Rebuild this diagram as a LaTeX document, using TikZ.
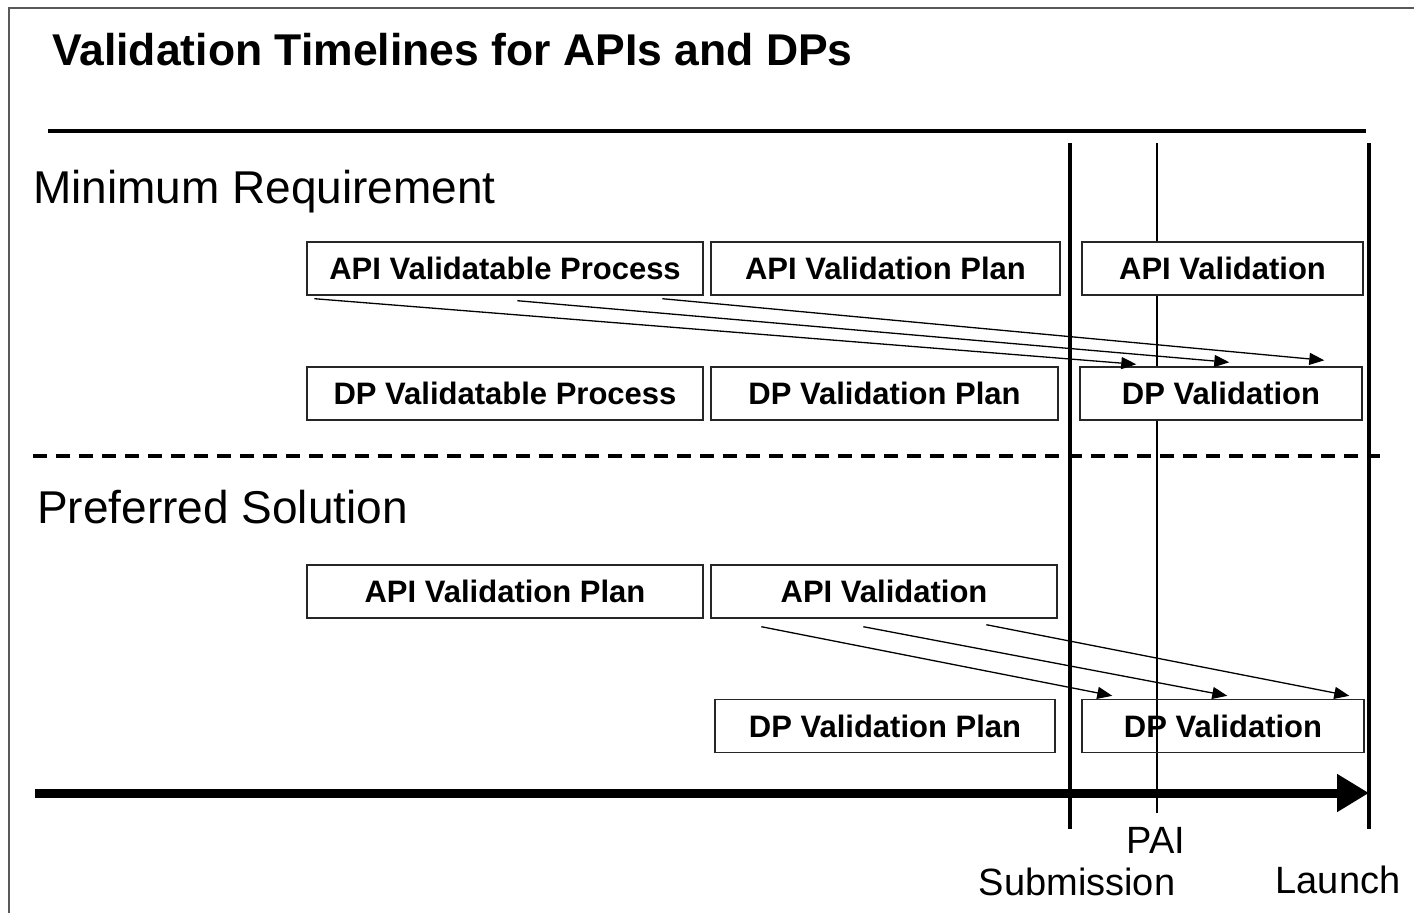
\documentclass[tikz,border=0pt]{standalone}
\usepackage{fontspec}
\setmainfont{Liberation Sans}
\usetikzlibrary{arrows.meta,calc}
\begin{document}
\begin{tikzpicture}[x=1pt,y=-1pt,
  box/.style={draw=black!85,line width=1.4pt,inner sep=0pt,minimum height=53pt,
    font=\fontsize{31}{36}\selectfont\bfseries},
  fbox/.style={box,fill=white},
  lbl/.style={inner sep=0pt,anchor=base,font=\fontsize{38}{42}\selectfont},
  sect/.style={inner sep=0pt,anchor=base west,font=\fontsize{46}{50}\selectfont},
  dep/.style={line width=1.3pt,-{Triangle[length=15pt,width=12pt]}},
  milestone/.style={line width=3.5pt},
]
\useasboundingbox (0,0) rectangle (1414,913);
% frame
\draw[black!65,line width=2pt] (9,913) -- (9,8) -- (1414,8);
% title
\node[inner sep=0pt,anchor=base west,font=\fontsize{44.5}{50}\selectfont\bfseries] (title) at (52,65) {Validation Timelines for APIs and DPs};
\draw[line width=4pt] (48,131) -- (1366,131);
% milestone lines
\coordinate (subtop) at (1070,143);
\coordinate (subbot) at (1070,829);
\coordinate (paitop) at (1157,143);
\coordinate (paibot) at (1157,813);
\coordinate (lautop) at (1369,143);
\coordinate (laubot) at (1369,829);
\draw[milestone] (subtop) -- (subbot);
\draw[line width=1.5pt] (paitop) -- (paibot);
\draw[milestone] (lautop) -- (laubot);
% section labels
\node[sect] (minreq) at (33,203) {Minimum Requirement};
\node[sect] (pref) at (37,523) {Preferred Solution};
% upper boxes
\node[fbox,minimum width=396pt] (avp) at (505,268.5) {API Validatable Process};
\node[fbox,minimum width=349pt] (avplan) at (885.5,268.5) {API Validation Plan};
\node[fbox,minimum width=281pt] (aval) at (1222.5,268.5) {API Validation};
\node[fbox,minimum width=396pt] (dvp) at (505,393.5) {DP Validatable Process};
\node[fbox,minimum width=347pt] (dvplan) at (884.5,393.5) {DP Validation Plan};
\node[fbox,minimum width=282pt] (dval) at (1221,393.5) {DP Validation};
% upper dependencies
\draw[dep] ($(avp.south west)+(8,3)$) -- ($(dval.north west)+(57,-2)$);
\draw[dep] ($(avp.south west)+(211,5)$) -- ($(dval.north west)+(150,-4)$);
\draw[dep] ($(avp.south west)+(356,3)$) -- ($(dval.north west)+(245,-6)$);
% dashed separator
\draw[line width=4pt,dash pattern=on 14pt off 9pt] (33,456) -- (1380,456);
% lower boxes
\node[box,minimum width=396pt] (papl) at (505,591.5) {API Validation Plan};
\node[box,minimum width=346pt] (paval) at (884,591.5) {API Validation};
\node[box,minimum width=340pt] (pdpl) at (885,726) {DP Validation Plan};
\node[box,minimum width=282pt] (pdval) at (1223,726) {DP Validation};
% lower dependencies
\draw[dep] ($(paval.south west)+(51,8)$) -- ($(pdval.north west)+(31,-3)$);
\draw[dep] ($(paval.south west)+(153,8)$) -- ($(pdval.north west)+(146,-3)$);
\draw[dep] ($(paval.south west)+(276,6)$) -- ($(pdval.north west)+(268,-3)$);
% timeline
\coordinate (tstart) at (35,793);
\draw[line width=9pt,-{Triangle[length=32pt,width=36pt]}] (tstart) -- (laubot |- tstart);
% labels
\node[lbl] (pai) at (1156,853) {PAI};
\node[lbl] (sub) at (1077,895) {Submission};
\node[lbl] (lau) at (1338,893) {Launch};
\end{tikzpicture}
\end{document}
